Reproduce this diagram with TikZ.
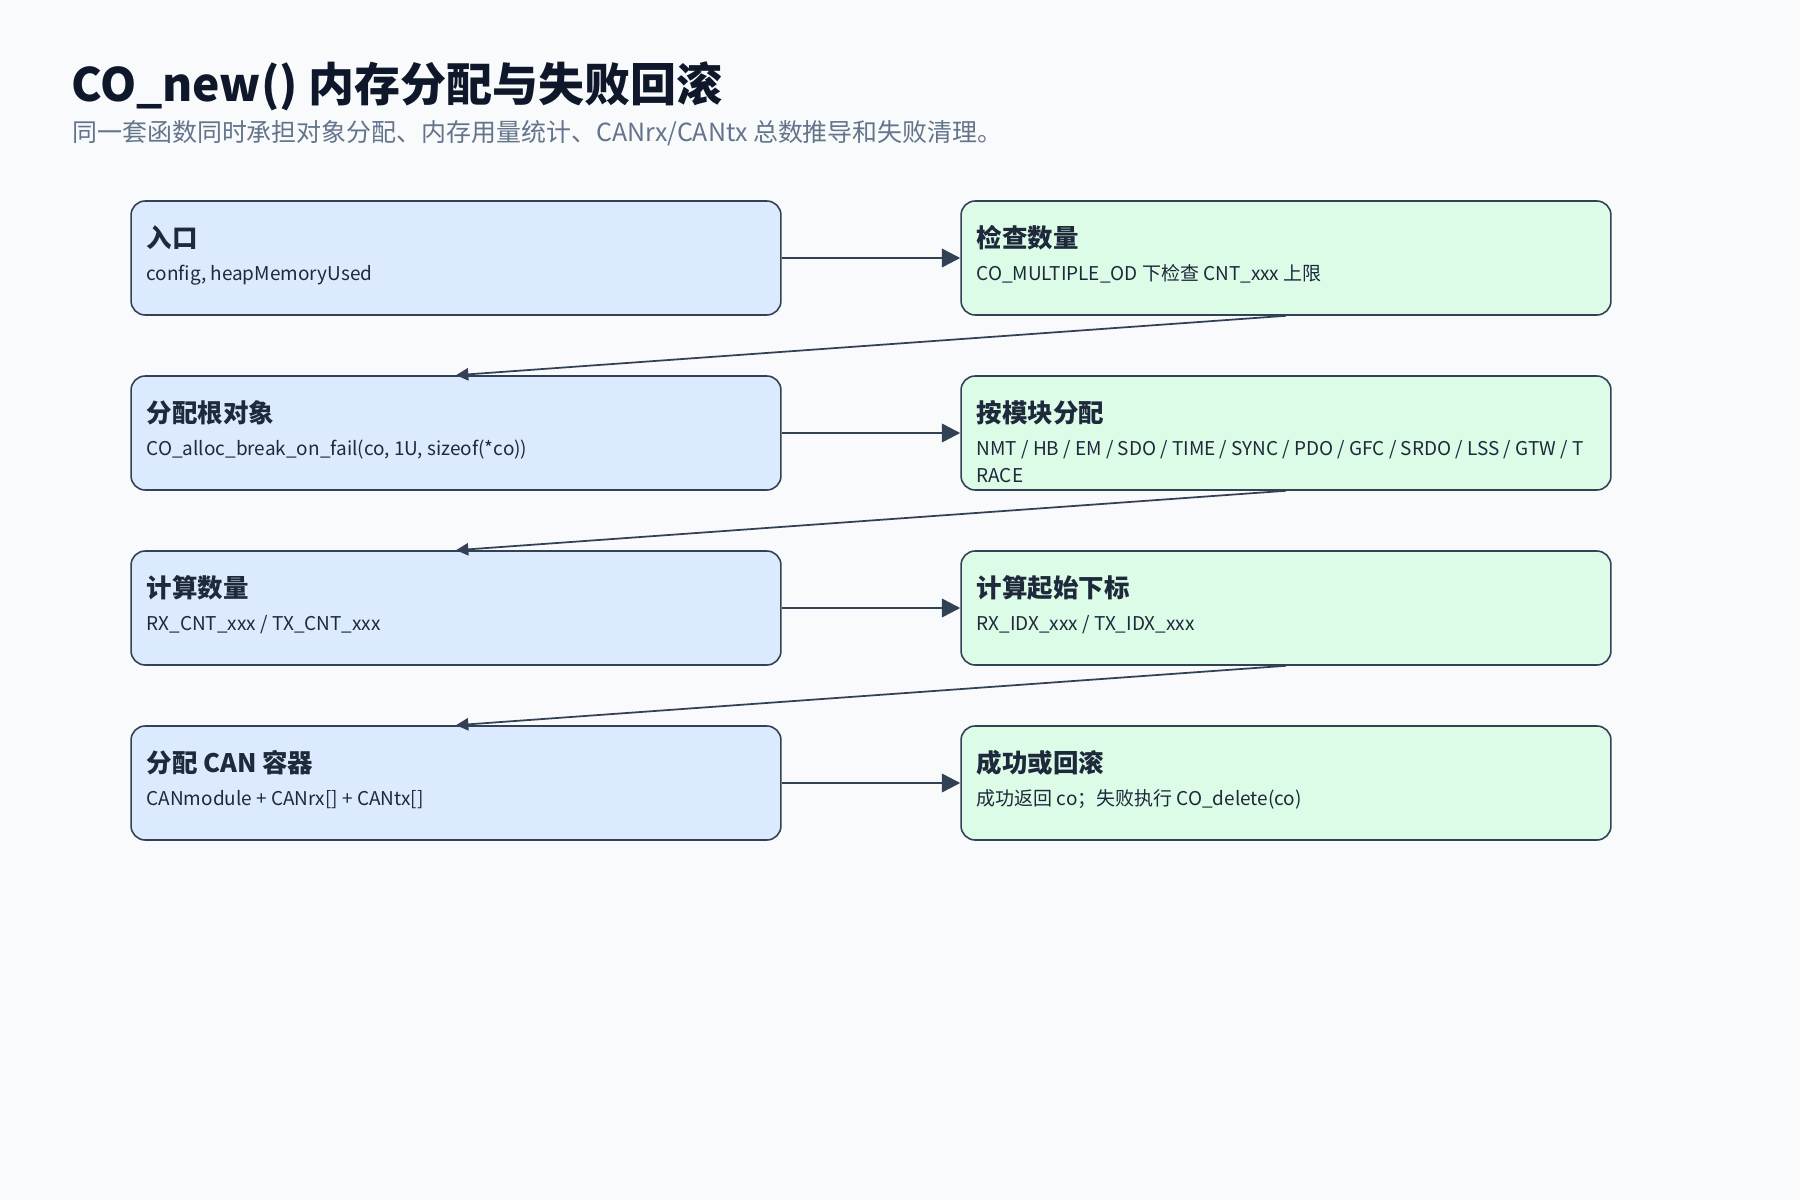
\documentclass[tikz,border=0pt]{standalone}
\usepackage{fontspec}
\setmainfont{Noto Sans CJK SC}
\usepackage{tikz}
\usetikzlibrary{arrows.meta,positioning,calc}
\definecolor{bgc}{HTML}{F8FAFC}
\definecolor{titlec}{HTML}{0F172A}
\definecolor{subc}{HTML}{64748B}
\definecolor{edge}{HTML}{334155}
\definecolor{ink}{HTML}{1E293B}
\definecolor{bluefill}{HTML}{DBEAFE}
\definecolor{greenfill}{HTML}{DCFCE7}
\tikzset{
  blk/.style    ={draw=edge,line width=0.9pt,rounded corners=8pt,inner sep=0pt,minimum width=13cm,minimum height=2.28cm},
  inblk/.style  ={blk,fill=bluefill},
  outblk/.style ={blk,fill=greenfill},
  head/.style   ={anchor=base west,inner sep=0pt,font=\fontsize{14.5}{17}\selectfont\bfseries,text=ink},
  note/.style   ={anchor=base west,inner sep=0pt,align=left,font=\fontsize{10.8}{15.3}\selectfont,text=ink},
  ar/.style     ={-{Triangle[length=10.5pt,width=10.5pt]},line width=1.4pt,draw=edge},
  back/.style   ={-{Triangle[length=7pt,width=7pt]},line width=1pt,draw=edge},
}
\begin{document}
\begin{tikzpicture}[x=0.02cm,y=-0.02cm]
  \fill[bgc] (0,0) rectangle (1800,1200);
  \useasboundingbox (0,0) rectangle (1800,1200);
  % title
  \node[anchor=base west,inner sep=0pt,font=\fontsize{26.2}{31}\selectfont\bfseries,text=titlec] (title) at (71,101) {CO\_new() 内存分配与失败回滚};
  \node[anchor=base west,inner sep=0pt,font=\fontsize{14.2}{17}\selectfont,text=subc] (sub) at (72,141) {同一套函数同时承担对象分配、内存用量统计、CANrx/CANtx 总数推导和失败清理。};
  % boxes
  \node[inblk]  (entry)  at (456,258) {};
  \node[outblk] (chk)    at (1286,258) {};
  \node[inblk]  (root)   at (456,433) {};
  \node[outblk] (permod) at (1286,433) {};
  \node[inblk]  (cnt)    at (456,608) {};
  \node[outblk] (idx)    at (1286,608) {};
  \node[inblk]  (canbuf) at (456,783) {};
  \node[outblk] (fin)    at (1286,783) {};
  % texts
  \node[head] (entryH)  at ($(entry.north west)+(16,47)$) {入口};
  \node[note] (entryN)  at ($(entry.north west)+(16,80)$) {config, heapMemoryUsed};
  \node[head] (chkH)    at ($(chk.north west)+(16,47)$) {检查数量};
  \node[note] (chkN)    at ($(chk.north west)+(16,80)$) {CO\_MULTIPLE\_OD 下检查 CNT\_xxx 上限};
  \node[head] (rootH)   at ($(root.north west)+(16,47)$) {分配根对象};
  \node[note] (rootN)   at ($(root.north west)+(16,80)$) {CO\_alloc\_break\_on\_fail(co, 1U, sizeof(*co))};
  \node[head] (permodH) at ($(permod.north west)+(16,47)$) {按模块分配};
  \node[note] (permodN) at ($(permod.north west)+(16,107)$) {NMT / HB / EM / SDO / TIME / SYNC / PDO / GFC / SRDO / LSS / GTW / T\\RACE};
  \node[head] (cntH)    at ($(cnt.north west)+(16,47)$) {计算数量};
  \node[note] (cntN)    at ($(cnt.north west)+(16,80)$) {RX\_CNT\_xxx / TX\_CNT\_xxx};
  \node[head] (idxH)    at ($(idx.north west)+(16,47)$) {计算起始下标};
  \node[note] (idxN)    at ($(idx.north west)+(16,80)$) {RX\_IDX\_xxx / TX\_IDX\_xxx};
  \node[head] (canbufH) at ($(canbuf.north west)+(16,47)$) {分配 CAN 容器};
  \node[note] (canbufN) at ($(canbuf.north west)+(16,80)$) {CANmodule + CANrx[] + CANtx[]};
  \node[head] (finH)    at ($(fin.north west)+(16,47)$) {成功或回滚};
  \node[note] (finN)    at ($(fin.north west)+(16,80)$) {成功返回 co；失败执行 CO\_delete(co)};
  % connectors
  \draw[ar] (entry) -- (chk);
  \draw[ar] (root) -- (permod);
  \draw[ar] (cnt) -- (idx);
  \draw[ar] (canbuf) -- (fin);
  \draw[back] (chk.south) -- (root.north);
  \draw[back] (permod.south) -- (cnt.north);
  \draw[back] (idx.south) -- (canbuf.north);
\end{tikzpicture}
\end{document}
